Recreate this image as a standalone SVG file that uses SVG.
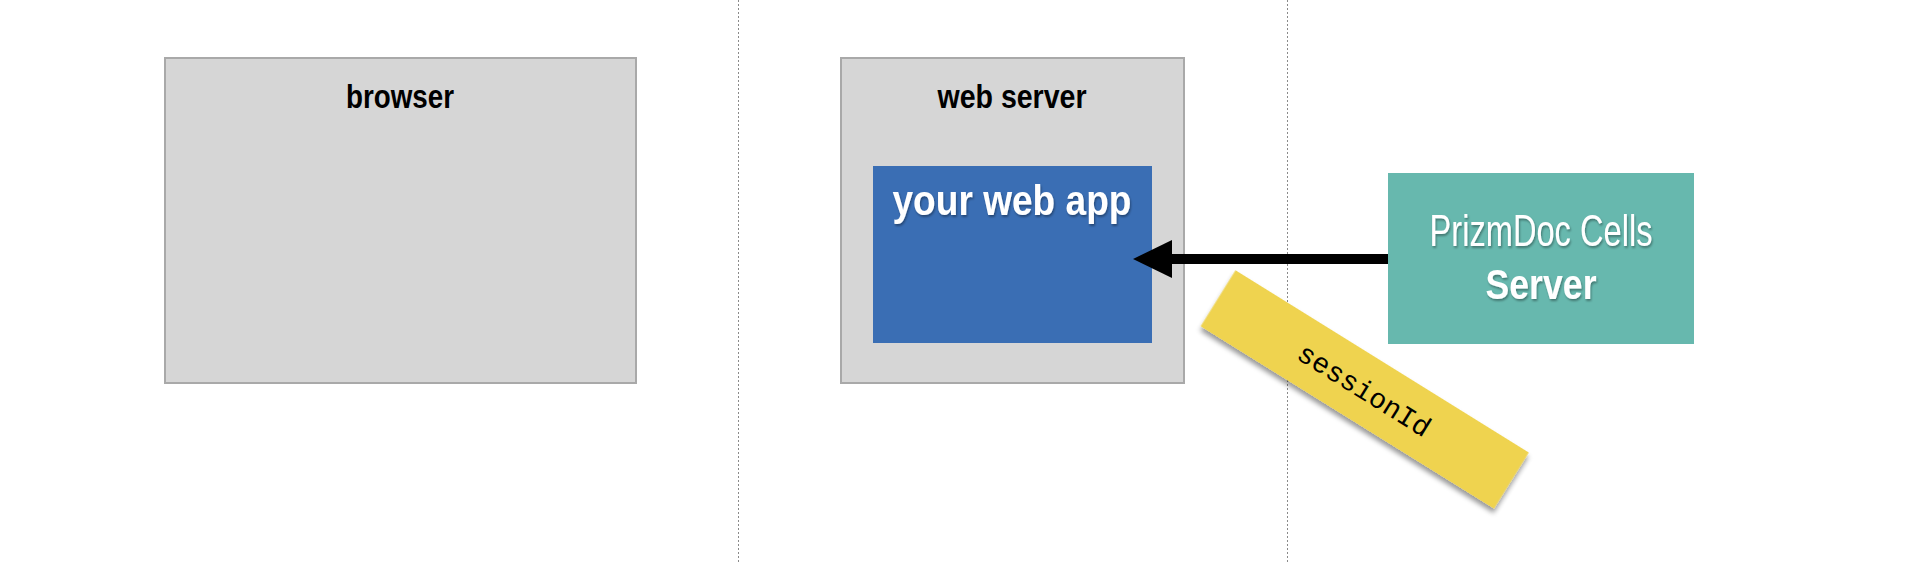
<svg xmlns="http://www.w3.org/2000/svg" width="1920" height="562" viewBox="0 0 1920 562">
<style>
.box{fill:#d6d6d6;stroke:#a9a9a9;stroke-width:2}
.title{font-family:"Liberation Sans",Arial,sans-serif;font-weight:bold;font-size:34px;fill:#000;text-anchor:middle}
.wt{font-family:"Liberation Sans",Arial,sans-serif;fill:#fff;text-anchor:middle}
.div{stroke:#8a8a8a;stroke-width:1;stroke-dasharray:2 2}
</style>
<defs>
<filter id="ts" x="-10%" y="-20%" width="120%" height="140%">
<feDropShadow dx="1" dy="2" stdDeviation="1" flood-color="#000" flood-opacity="0.35"/>
</filter>
<filter id="ns" x="-10%" y="-20%" width="130%" height="150%">
<feDropShadow dx="2" dy="4" stdDeviation="2.5" flood-color="#000" flood-opacity="0.4"/>
</filter>
</defs>
<rect width="1920" height="562" fill="#fff"/>
<line class="div" x1="738.5" y1="0" x2="738.5" y2="562"/>
<line class="div" x1="1287.5" y1="0" x2="1287.5" y2="562"/>
<g id="browser">
<rect class="box" x="165" y="58" width="471" height="325"/>
<text class="title" x="400" y="108" textLength="108" lengthAdjust="spacingAndGlyphs">browser</text>
</g>
<g id="webserver">
<rect class="box" x="841" y="58" width="343" height="325"/>
<text class="title" x="1012" y="108" textLength="149" lengthAdjust="spacingAndGlyphs">web server</text>
</g>
<g id="webapp">
<rect x="873" y="166" width="279" height="177" fill="#3a6eb4"/>
<text class="wt" x="1012" y="215" font-size="42" font-weight="bold" textLength="239" lengthAdjust="spacingAndGlyphs" filter="url(#ts)">your web app</text>
</g>
<g id="prizmdoc">
<rect x="1388" y="173" width="306" height="171" fill="#67b8ae"/>
<text class="wt" x="1541" y="246" font-size="44" font-family="'Open Sans',sans-serif" font-weight="300" textLength="223" lengthAdjust="spacingAndGlyphs" filter="url(#ts)">PrizmDoc Cells</text>
<text class="wt" x="1541" y="299" font-size="42" font-weight="bold" textLength="111" lengthAdjust="spacingAndGlyphs" filter="url(#ts)">Server</text>
</g>
<g id="connectors">
<line x1="1388" y1="259" x2="1170" y2="259" stroke="#000" stroke-width="10"/>
<path d="M1133,259 L1172,240 L1172,278 Z" fill="#000"/>
</g>
<g id="sessionId" transform="translate(1364.7,389.4) rotate(31.86)">
<rect x="-172.6" y="-33" width="345.3" height="66" fill="#efd350" filter="url(#ns)"/>
<text x="0" y="10" font-family="'Liberation Mono','Courier New',monospace" font-size="28" text-anchor="middle" fill="#000">sessionId</text>
</g>
</svg>
